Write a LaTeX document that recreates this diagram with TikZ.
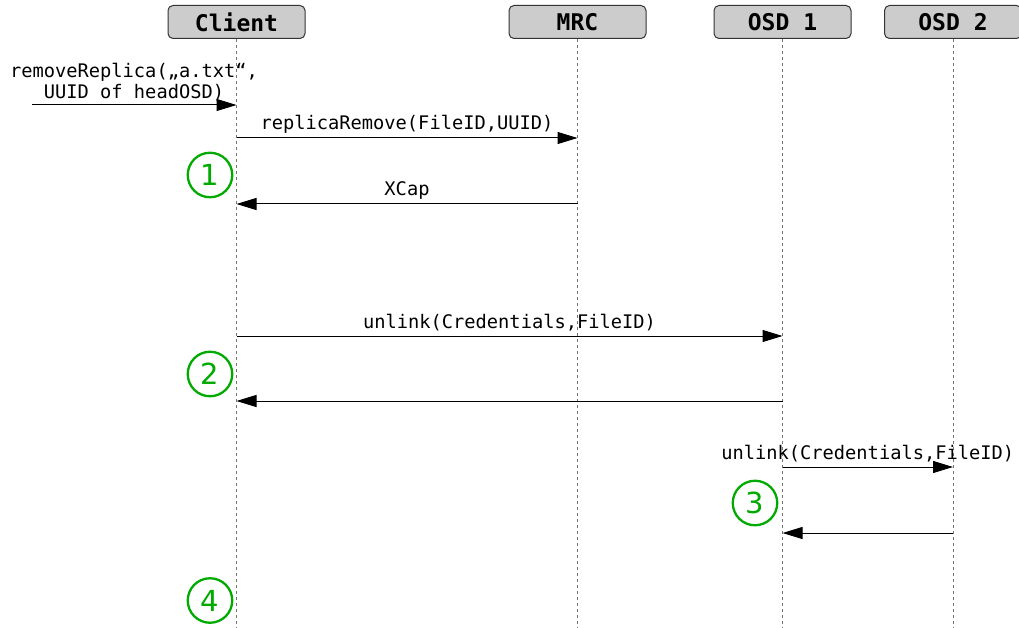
\documentclass[tikz,border=0pt]{standalone}
\usepackage{fontspec}
\setmonofont{DejaVu Sans Mono}
\newfontfamily\circfont{DejaVu Sans}
\usetikzlibrary{arrows.meta,calc}
\definecolor{cabeza}{RGB}{204,204,204}
\definecolor{verde}{RGB}{0,170,0}

\begin{document}
\begin{tikzpicture}[x=1pt,y=-1pt,
	caja/.style={draw=black!80,line width=1pt,fill=cabeza,rounded corners=5pt,minimum width=137pt,minimum height=33pt,inner sep=0pt,font=\fontsize{23}{26}\selectfont\ttfamily\bfseries},
	vida/.style={black!55,dash pattern=on 3pt off 3pt,line width=1pt},
	msg/.style={-{Triangle[length=20pt,width=12pt]},line width=1pt},
	etiq/.style={font=\fontsize{18.7}{21}\selectfont\ttfamily,inner sep=0pt},
	num/.style={circle,draw=verde,line width=2.3pt,minimum size=44.5pt,inner sep=0pt,text=verde,font=\fontsize{29}{29}\selectfont\circfont}]

\useasboundingbox (0,0) rectangle (1019,628);

%%%%%%%%%%%%%%%%%%%%%%%%%%%%%%%%%%%%%%%%%%%%%%%%	CABEZAS
\node[caja] (client) at (236.5,22) {Client};
\node[caja] (mrc) at (577.5,22) {MRC};
\node[caja] (osd1) at (782.5,22) {OSD 1};
\node[caja] (osd2) at (953,22) {OSD 2};

%%%%%%%%%%%%%%%%%%%%%%%%%%%%%%%%%%%%%%%%%%%%%%%%	LINEAS DE VIDA
\foreach \p in {client,mrc,osd1,osd2}
	\draw[vida] (\p.south) -- (\p.south |- 0,628);

%%%%%%%%%%%%%%%%%%%%%%%%%%%%%%%%%%%%%%%%%%%%%%%%	PUNTOS DE LOS MENSAJES
\coordinate (ini) at (32,105);
\coordinate (c1) at (client.south |- 0,105);
\coordinate (c2) at (client.south |- 0,138);	\coordinate (m2) at (mrc.south |- 0,138);
\coordinate (m3) at (mrc.south |- 0,204);		\coordinate (c3) at (client.south |- 0,204);
\coordinate (c4) at (client.south |- 0,336);	\coordinate (o4) at (osd1.south |- 0,336);
\coordinate (o5) at (osd1.south |- 0,401);	\coordinate (c5) at (client.south |- 0,401);
\coordinate (o6) at (osd1.south |- 0,467);	\coordinate (p6) at (osd2.south |- 0,467);
\coordinate (p7) at (osd2.south |- 0,533);	\coordinate (o7) at (osd1.south |- 0,533);

%%%%%%%%%%%%%%%%%%%%%%%%%%%%%%%%%%%%%%%%%%%%%%%%	MENSAJES
\draw[msg] (ini) -- (c1);
\node[etiq,align=center] (lrem) at (134,82) {removeReplica(„a.txt“,\\UUID of headOSD)};

\draw[msg] (c2) -- node[etiq,above=4pt] (lrep) {replicaRemove(FileID,UUID)} (m2);
\draw[msg] (m3) -- node[etiq,above=4pt] (lxcap) {XCap} (c3);

\draw[msg] (c4) -- node[etiq,above=4pt] (lunl1) {unlink(Credentials,FileID)} (o4);
\draw[msg] (o5) -- (c5);

\draw[msg] (o6) -- node[etiq,above=4pt] (lunl2) {unlink(Credentials,FileID)} (p6);
\draw[msg] (p7) -- (o7);

%%%%%%%%%%%%%%%%%%%%%%%%%%%%%%%%%%%%%%%%%%%%%%%%	PASOS
\node[num] (uno) at (210,175) {1};
\node[num] (dos) at (210,374) {2};
\node[num] (tres) at (755,503) {3};
\node[num] (cuatro) at (210,600.5) {4};

\end{tikzpicture}
\end{document}
